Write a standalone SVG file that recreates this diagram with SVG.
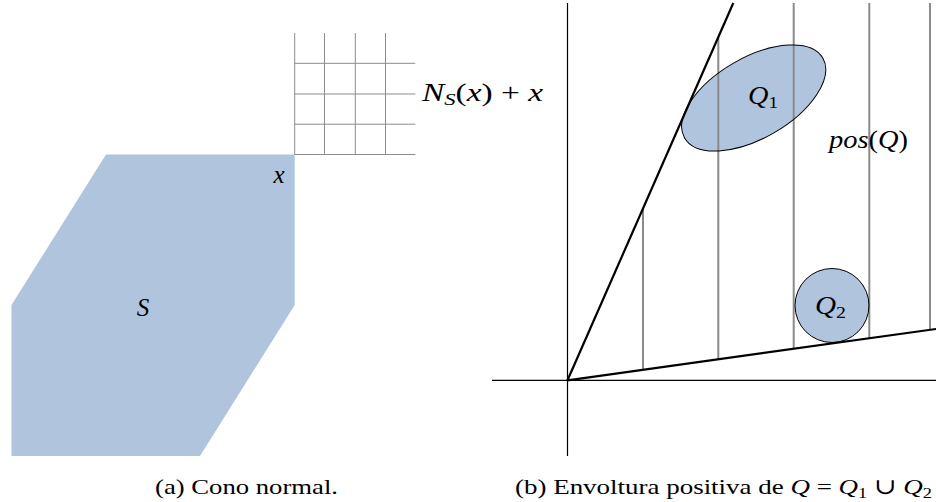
<svg xmlns="http://www.w3.org/2000/svg" width="936" height="502" viewBox="0 0 936 502">
<style>
.t{font-family:"Liberation Serif","DejaVu Serif",serif;fill:#000}
.m{font-family:"Liberation Serif","DejaVu Serif",serif;font-style:italic;fill:#000}
.r{font-style:normal}
.grid{stroke:#8c8c8c;stroke-width:1;fill:none}
.hatch{stroke:#8a8a8a;stroke-width:2;fill:none}
.axis{stroke:#000;stroke-width:1.2;fill:none}
.ray{stroke:#000;stroke-width:2.2;fill:none}
.fill{fill:#b0c4de}
</style>
<rect width="936" height="502" fill="#fff"/>
<g id="panel-a">
  <polygon id="S" class="fill" points="106,154.5 294.7,154.5 294.7,305 200,456 11.5,456 11.5,305"/>
  <g id="grid" class="grid">
    <line x1="294.7" y1="33" x2="294.7" y2="154.5"/>
    <line x1="324.5" y1="33" x2="324.5" y2="154.5"/>
    <line x1="355.3" y1="33" x2="355.3" y2="154.5"/>
    <line x1="385.5" y1="33" x2="385.5" y2="154.5"/>
    <line x1="294.7" y1="63.3" x2="415.3" y2="63.3"/>
    <line x1="294.7" y1="94" x2="415.3" y2="94"/>
    <line x1="294.7" y1="124.2" x2="415.3" y2="124.2"/>
    <line x1="294.7" y1="154.5" x2="415.3" y2="154.5"/>
  </g>
  <text class="m" x="143" y="316" font-size="25" text-anchor="middle">S</text>
  <text class="m" x="279" y="182.5" font-size="25" text-anchor="middle">x</text>
  <text class="m" x="422" y="101" font-size="25" textLength="121" lengthAdjust="spacingAndGlyphs">N<tspan font-size="17" dy="4">S</tspan><tspan class="r" dy="-4">(</tspan>x<tspan class="r">) + </tspan>x</text>
  <text class="t" x="155" y="494" font-size="22" textLength="183" lengthAdjust="spacingAndGlyphs">(a) Cono normal.</text>
</g>
<g id="panel-b">
  <ellipse id="Q1" class="fill" cx="753.7" cy="98" rx="79.8" ry="40.3" transform="rotate(-30 753.7 98)"/>
  <circle id="Q2" class="fill" cx="832" cy="305.5" r="37"/>
  <g id="connectors">
    <g class="hatch">
      <line x1="643" y1="207.7" x2="643" y2="369.5"/>
      <line x1="718.3" y1="37" x2="718.3" y2="359.1"/>
      <line x1="793.7" y1="3" x2="793.7" y2="348.7"/>
      <line x1="869.3" y1="3" x2="869.3" y2="338.2"/>
      <line x1="930" y1="3" x2="930" y2="329.8"/>
    </g>
    <line class="axis" x1="567.5" y1="3" x2="567.5" y2="456"/>
    <line class="axis" x1="492" y1="380.3" x2="936" y2="380.3"/>
    <line class="ray" x1="567.5" y1="380.3" x2="733.3" y2="3"/>
    <line class="ray" x1="567.5" y1="380.3" x2="936" y2="329"/>
  </g>
  <ellipse cx="753.7" cy="98" rx="79.8" ry="40.3" transform="rotate(-30 753.7 98)" fill="none" stroke="#000" stroke-width="1"/>
  <circle cx="832" cy="305.5" r="37" fill="none" stroke="#000" stroke-width="1"/>
  <text class="m" x="748" y="104" font-size="25" textLength="30" lengthAdjust="spacingAndGlyphs">Q<tspan class="r" font-size="17" dy="4">1</tspan></text>
  <text class="m" x="815" y="314" font-size="25" textLength="31" lengthAdjust="spacingAndGlyphs">Q<tspan class="r" font-size="17" dy="4">2</tspan></text>
  <text class="m" x="829" y="148" font-size="25" textLength="79" lengthAdjust="spacingAndGlyphs">pos<tspan class="r">(</tspan>Q<tspan class="r">)</tspan></text>
  <text class="t" x="515" y="494" font-size="22" textLength="417" lengthAdjust="spacingAndGlyphs">(b) Envoltura positiva de <tspan class="m">Q</tspan> = <tspan class="m">Q</tspan><tspan font-size="15" dy="4">1</tspan><tspan dy="-4"> ∪ </tspan><tspan class="m">Q</tspan><tspan font-size="15" dy="4">2</tspan></text>
</g>
</svg>
